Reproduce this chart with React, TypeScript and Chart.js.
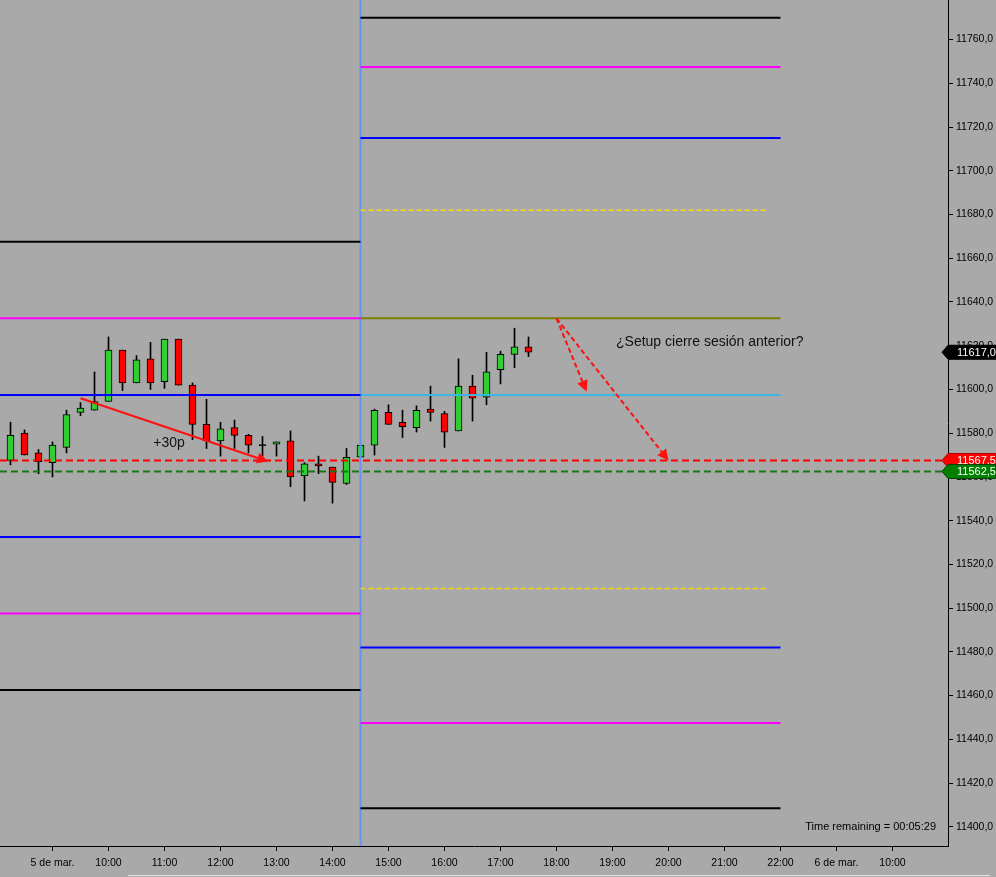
import React, { useEffect, useRef } from 'react';
import { Chart, registerables } from 'chart.js';

Chart.register(...registerables);

// ---------- data ----------
const candleIndex = [-3, -2, -1, 0, 1, 2, 3, 4, 5, 6, 7, 8, 9, 10, 11, 12, 13, 14, 15, 16, 17, 18, 19, 20, 21, 22, 23, 24, 25, 26, 27, 28, 29, 30, 31, 32, 33, 34];
const opens = [11567.5, 11580, 11571, 11566.5, 11573.5, 11589.5, 11590.5, 11594.5, 11618, 11603, 11614, 11603.5, 11623, 11602, 11584, 11576.5, 11582.5, 11579, 11574.5, 11575, 11576.5, 11560.5, 11566, 11564.5, 11557, 11569, 11574.5, 11589.5, 11585, 11582.5, 11591, 11589, 11581, 11601.5, 11596.5, 11609, 11616, 11619.5];
const highs = [11585, 11581.5, 11572.5, 11576, 11590.5, 11594, 11608, 11624, 11618, 11615.5, 11621.5, 11623, 11623, 11603, 11595.5, 11585, 11586, 11579.5, 11578.5, 11576, 11581, 11566.5, 11569.5, 11564.5, 11573, 11574.5, 11591, 11593, 11590.5, 11592.5, 11601.5, 11590, 11614, 11606.5, 11617, 11617.5, 11628, 11624];
const lows = [11565.5, 11570, 11561.5, 11560, 11571, 11588, 11590.5, 11594.5, 11599.5, 11603, 11600, 11600.5, 11602, 11577, 11573, 11569.5, 11573, 11571, 11569.5, 11569.5, 11555.5, 11549, 11561.5, 11548, 11556.5, 11569, 11570, 11584, 11578, 11580.5, 11585.5, 11573.5, 11581, 11585.5, 11593, 11602.5, 11610, 11615];
const closes = [11579, 11570, 11567, 11574.5, 11588.5, 11591.5, 11594.5, 11618, 11603, 11613.5, 11603, 11623, 11602, 11584, 11576.5, 11582, 11579, 11574.5, 11574.5, 11576, 11560, 11566, 11565, 11557.5, 11569, 11574.5, 11590.5, 11584, 11583, 11590.5, 11589.5, 11580.5, 11601.5, 11596, 11608, 11616, 11619.5, 11617];

const xTickPositions = [0, 4, 8, 12, 16, 20, 24, 28, 32, 36, 40, 44, 48, 52, 56, 60];
const xTickLabels = ['5 de mar.', '10:00', '11:00', '12:00', '13:00', '14:00', '15:00', '16:00', '17:00', '18:00', '19:00', '20:00', '21:00', '22:00', '6 de mar.', '10:00'];
const yTickValues = [11400, 11420, 11440, 11460, 11480, 11500, 11520, 11540, 11560, 11580, 11600, 11620, 11640, 11660, 11680, 11700, 11720, 11740, 11760];

const leftLevels = [11667.5, 11632.5, 11597.5, 11532.5, 11497.5, 11462.5];
const leftLevelColors = ['#000000', '#ff00ff', '#0000ff', '#0000ff', '#ff00ff', '#000000'];
const rightLevels = [11770, 11747.5, 11715, 11632.5, 11597.5, 11482, 11447.5, 11408.5];
const rightLevelColors = ['#000000', '#ff00ff', '#0000ff', '#808000', '#3cb4e6', '#0000ff', '#ff00ff', '#000000'];
const rightDashedLevels = [11682, 11509];
const bidLevel = 11567.5;
const askLevel = 11562.5;
const lastPrice = 11617.0;

const sessionSplit = 22;
const sessionEnd = 52;
const dashedEnd = 51;

const X_MIN = -3.75;
const X_MAX = 63.964;
const Y_MIN = 11391.2;
const Y_MAX = 11778.1;

// annotations in data coordinates [index, price]
const solidArrow = { from: [2, 11596], to: [15.4, 11567] };
const dashedArrows = [
  { from: [36, 11632.5], to: [38.15, 11599] },
  { from: [36, 11632.5], to: [44, 11567.5] },
];
const texts = [
  { at: [8.32, 11575.5], text: '+30p', align: 'center' },
  { at: [40.25, 11621.8], text: '¿Setup cierre sesión anterior?', align: 'left' },
];

const FONT = "'Liberation Sans', Arial, sans-serif";

const fmt = (v: number) => v.toFixed(1).replace('.', ',');

function drawArrow(ctx: CanvasRenderingContext2D, x1: number, y1: number, x2: number, y2: number, dashed: boolean) {
  const ang = Math.atan2(y2 - y1, x2 - x1);
  const len = 11;
  const hw = 5.5;
  const bx = x2 - Math.cos(ang) * len;
  const by = y2 - Math.sin(ang) * len;
  ctx.save();
  ctx.strokeStyle = '#ff1010';
  ctx.fillStyle = '#ff1010';
  ctx.lineWidth = 2;
  ctx.setLineDash(dashed ? [5, 3] : []);
  ctx.beginPath();
  ctx.moveTo(x1, y1);
  ctx.lineTo(bx, by);
  ctx.stroke();
  ctx.setLineDash([]);
  ctx.beginPath();
  ctx.moveTo(x2, y2);
  ctx.lineTo(bx + Math.sin(ang) * hw, by - Math.cos(ang) * hw);
  ctx.lineTo(bx - Math.sin(ang) * hw, by + Math.cos(ang) * hw);
  ctx.closePath();
  ctx.fill();
  ctx.restore();
}

function priceTag(ctx: CanvasRenderingContext2D, y: number, fill: string, stroke: string, text: string) {
  const tip = 942;
  const left = 948;
  const right = 996;
  const h = 7;
  ctx.save();
  ctx.beginPath();
  ctx.moveTo(tip, y);
  ctx.lineTo(left, y - h);
  ctx.lineTo(right, y - h);
  ctx.lineTo(right, y + h);
  ctx.lineTo(left, y + h);
  ctx.closePath();
  ctx.fillStyle = fill;
  ctx.fill();
  ctx.strokeStyle = stroke;
  ctx.lineWidth = 1;
  ctx.stroke();
  ctx.fillStyle = '#ffffff';
  ctx.font = `11px ${FONT}`;
  ctx.textAlign = 'left';
  ctx.textBaseline = 'middle';
  ctx.fillText(text, 957, y + 0.5);
  ctx.restore();
}

const annotationPlugin = {
  id: 'annotations',
  afterDatasetsDraw(chart: any) {
    const { ctx } = chart;
    const xs = chart.scales.x;
    const ys = chart.scales.y;
    const px = (p: number[]) => [xs.getPixelForValue(p[0]), ys.getPixelForValue(p[1])];
    const a = px(solidArrow.from);
    const b = px(solidArrow.to);
    drawArrow(ctx, a[0], a[1], b[0], b[1], false);
    dashedArrows.forEach((d) => {
      const s = px(d.from);
      const e = px(d.to);
      drawArrow(ctx, s[0], s[1], e[0], e[1], true);
    });
    ctx.save();
    ctx.fillStyle = '#111111';
    ctx.font = `14px ${FONT}`;
    ctx.textBaseline = 'middle';
    texts.forEach((t) => {
      const p = px(t.at);
      ctx.textAlign = t.align as CanvasTextAlign;
      ctx.fillText(t.text, p[0], p[1]);
    });
    ctx.restore();
  },
  afterDraw(chart: any) {
    const { ctx, chartArea } = chart;
    const ys = chart.scales.y;
    priceTag(ctx, ys.getPixelForValue(lastPrice), '#000000', '#000000', fmt(lastPrice));
    priceTag(ctx, ys.getPixelForValue(bidLevel), '#ff0000', '#b00000', fmt(bidLevel));
    priceTag(ctx, ys.getPixelForValue(askLevel), '#008000', '#004000', fmt(askLevel));
    ctx.save();
    ctx.fillStyle = '#000000';
    ctx.font = `11px ${FONT}`;
    ctx.textAlign = 'right';
    ctx.textBaseline = 'middle';
    ctx.fillText('Time remaining = 00:05:29', chartArea.right - 12, chartArea.bottom - 19);
    ctx.strokeStyle = '#e4e4e4';
    ctx.lineWidth = 1;
    ctx.beginPath();
    ctx.moveTo(128, 875.5);
    ctx.lineTo(990, 875.5);
    ctx.stroke();
    ctx.restore();
  },
};

function levelDataset(y: number, x0: number, x1: number, color: string, dash: number[] = [], width = 2) {
  return {
    type: 'line' as const,
    data: [{ x: x0, y }, { x: x1, y }],
    borderColor: color,
    borderWidth: width,
    borderDash: dash,
    pointRadius: 0,
    fill: false,
    order: 0,
  };
}

export default function App() {
  const ref = useRef<HTMLCanvasElement>(null);

  useEffect(() => {
    const bodyData = candleIndex.map((x, i) => {
      const lo = Math.min(opens[i], closes[i]);
      const hi = Math.max(opens[i], closes[i]);
      if (hi - lo < 0.4) return { x, y: [lo - 0.23, hi + 0.23] };
      return { x, y: [lo, hi] };
    });
    const bodyColors = candleIndex.map((_, i) =>
      closes[i] > opens[i] ? '#32cd32' : closes[i] < opens[i] ? '#ff0000' : '#000000'
    );
    const wickData = candleIndex.map((x, i) => ({ x, y: [lows[i], highs[i]] }));

    const datasets: any[] = [];
    datasets.push(levelDataset(bidLevel, X_MIN, X_MAX, '#ff0000', [7, 4]));
    datasets.push(levelDataset(askLevel, X_MIN, X_MAX, '#137a13', [7, 4]));
    leftLevels.forEach((v, i) => datasets.push(levelDataset(v, X_MIN, sessionSplit, leftLevelColors[i])));
    rightLevels.forEach((v, i) => datasets.push(levelDataset(v, sessionSplit, sessionEnd, rightLevelColors[i])));
    rightDashedLevels.forEach((v) => datasets.push(levelDataset(v, sessionSplit, dashedEnd, '#ffd700', [5, 3], 1.5)));
    datasets.push({
      type: 'line',
      data: [{ x: sessionSplit, y: Y_MIN }, { x: sessionSplit, y: Y_MAX }],
      borderColor: '#6495ed',
      borderWidth: 2,
      pointRadius: 0,
      fill: false,
      order: 0,
    });
    datasets.push({
      type: 'bar',
      data: bodyData,
      backgroundColor: bodyColors,
      borderColor: '#000000',
      borderWidth: 1,
      borderSkipped: false,
      barThickness: 7,
      grouped: false,
      order: 1,
    });
    datasets.push({
      type: 'bar',
      data: wickData,
      backgroundColor: '#000000',
      borderWidth: 0,
      barThickness: 1,
      grouped: false,
      order: 2,
    });

    const tickFont = { family: FONT, size: 10.5 };

    const chart = new Chart(ref.current!, {
      type: 'bar',
      data: { datasets },
      options: {
        animation: false,
        responsive: false,
        devicePixelRatio: 1,
        layout: { padding: 0 },
        plugins: { legend: { display: false }, tooltip: { enabled: false } },
        scales: {
          x: {
            type: 'linear',
            min: X_MIN,
            max: X_MAX,
            offset: false,
            position: 'bottom',
            grid: { offset: false, drawOnChartArea: false, drawTicks: true, tickLength: 5, color: '#000000', lineWidth: 1 },
            border: { display: true, color: '#000000', width: 1 },
            ticks: {
              autoSkip: false,
              maxRotation: 0,
              padding: 6,
              color: '#000000',
              font: tickFont,
              callback: (v: any) => {
                const k = xTickPositions.indexOf(Number(v));
                return k >= 0 ? xTickLabels[k] : '';
              },
            },
            afterBuildTicks: (s: any) => {
              s.ticks = xTickPositions.map((v) => ({ value: v }));
            },
            afterFit: (s: any) => {
              s.height = 31;
              s.paddingLeft = 0;
              s.paddingRight = 0;
              s.paddingTop = 0;
              s.paddingBottom = 0;
            },
          },
          y: {
            type: 'linear',
            position: 'right',
            min: Y_MIN,
            max: Y_MAX,
            grid: { offset: false, drawOnChartArea: false, drawTicks: true, tickLength: 5, color: '#000000', lineWidth: 1 },
            border: { display: true, color: '#000000', width: 1 },
            ticks: {
              autoSkip: false,
              padding: 3,
              color: '#000000',
              font: tickFont,
              callback: (v: any) => fmt(Number(v)),
            },
            afterBuildTicks: (s: any) => {
              s.ticks = yTickValues.map((v) => ({ value: v }));
            },
            afterFit: (s: any) => {
              s.width = 48;
              s.paddingLeft = 0;
              s.paddingRight = 0;
              s.paddingTop = 0;
              s.paddingBottom = 0;
            },
          },
        },
      },
      plugins: [annotationPlugin],
    } as any);

    return () => chart.destroy();
  }, []);

  return (
    <div style={{ position: 'absolute', left: 0, top: 0, width: 996, height: 877, background: '#a9a9a9' }}>
      <canvas ref={ref} width={996} height={877} style={{ display: 'block', width: 996, height: 877 }} />
    </div>
  );
}
